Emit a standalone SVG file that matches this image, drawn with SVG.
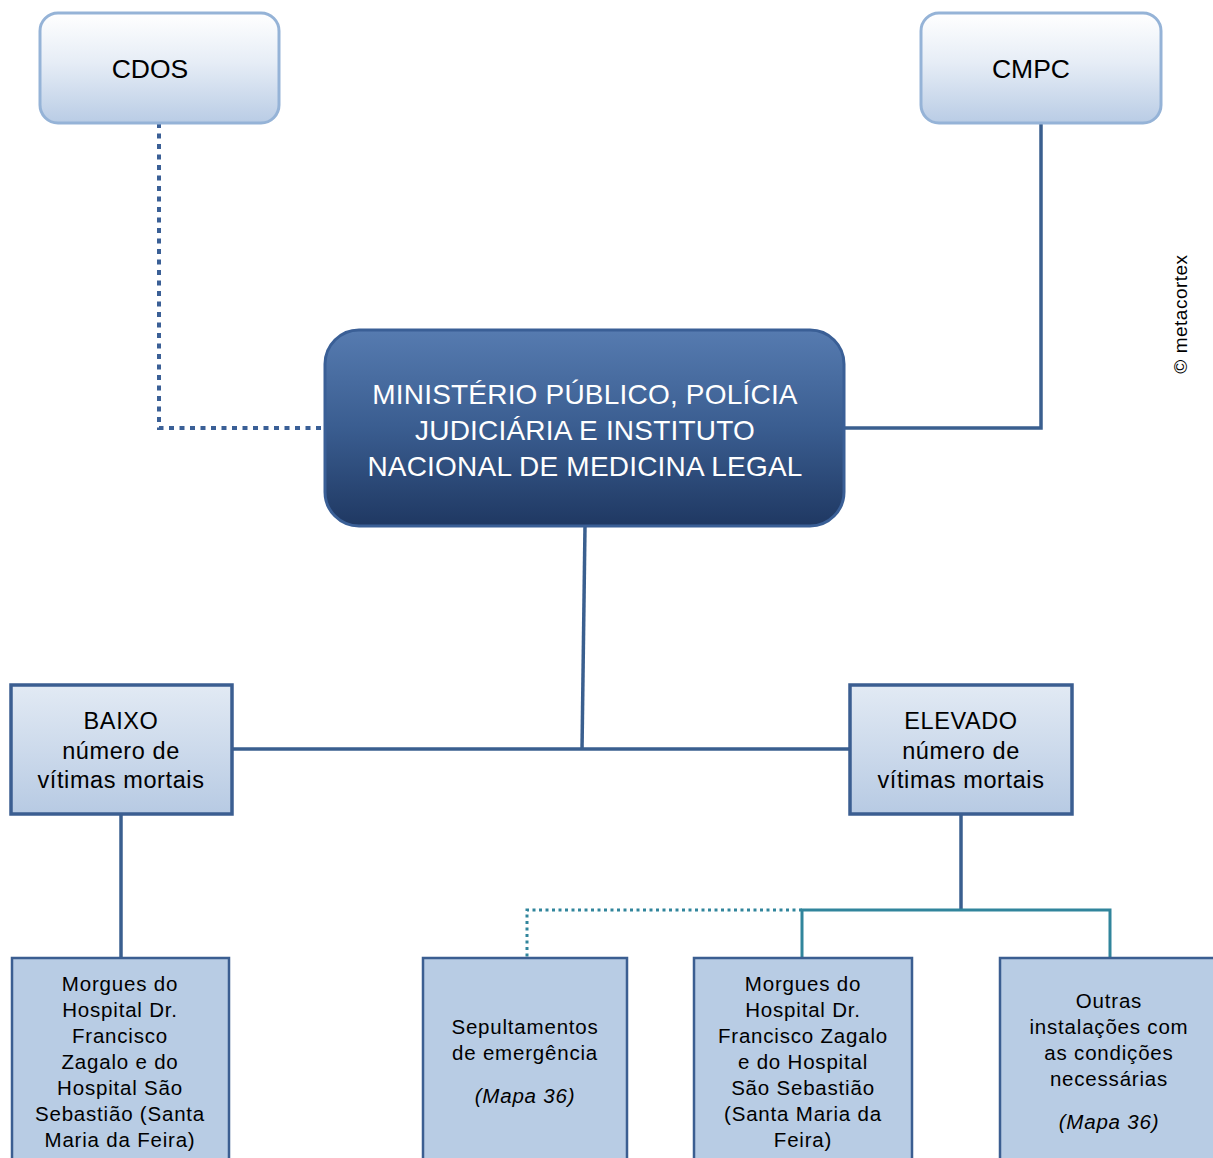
<svg xmlns="http://www.w3.org/2000/svg" width="1213" height="1158" viewBox="0 0 1213 1158">
<defs>
<linearGradient id="gTop" x1="0" y1="0" x2="0" y2="1">
<stop offset="0" stop-color="#ffffff"/>
<stop offset="0.45" stop-color="#e6edf6"/>
<stop offset="1" stop-color="#b9cce5"/>
</linearGradient>
<linearGradient id="gMain" x1="0" y1="0" x2="0" y2="1">
<stop offset="0" stop-color="#567bb0"/>
<stop offset="0.5" stop-color="#3a5d90"/>
<stop offset="1" stop-color="#1f3862"/>
</linearGradient>
<linearGradient id="gMid" x1="0" y1="0" x2="0" y2="1">
<stop offset="0" stop-color="#e2eaf4"/>
<stop offset="1" stop-color="#b7cae3"/>
</linearGradient>
<style>
.top{fill:url(#gTop);stroke:#95b3d7;stroke-width:3}
.main{fill:url(#gMain);stroke:#3a5f96;stroke-width:3}
.mid{fill:url(#gMid);stroke:#3b5e91;stroke-width:3.5}
.bot{fill:#b8cce4;stroke:#3b5e91;stroke-width:2.5}
.ln{fill:none;stroke:#3a5f8f;stroke-width:3.5}
.dot{fill:none;stroke:#3a5f96;stroke-width:4;stroke-dasharray:5 5.5}
.teal{fill:none;stroke:#31859c;stroke-width:3}
.tdot{fill:none;stroke:#31859c;stroke-width:3;stroke-dasharray:3 3.5}
text{font-family:"Liberation Sans",Arial,sans-serif;text-anchor:middle;fill:#000}
.t24{font-size:26.5px}
.tm{font-size:28px;fill:#fff;letter-spacing:0.2px}
.t22{font-size:23.5px;letter-spacing:0.6px}
.t20{font-size:20.5px;letter-spacing:0.8px}
.it{font-style:italic}
</style>
</defs>
<g id="connectors">
<path class="dot" d="M159,123 V428 H322"/>
<path class="ln" d="M1041,123 V428 H844"/>
<path class="ln" d="M585,526 L582,750"/>
<path class="ln" d="M232,749 H850"/>
<path class="ln" d="M121,814 V958"/>
<path class="ln" d="M961,814 V910"/>
<path class="teal" d="M802,958 V910 H1110 V958"/>
<path class="tdot" d="M802,910 H527 V958"/>
</g>
<g id="cdos">
<rect class="top" x="40" y="13" width="239" height="110" rx="18"/>
<text class="t24" x="150" y="78">CDOS</text>
</g>
<g id="cmpc">
<rect class="top" x="921" y="13" width="240" height="110" rx="18"/>
<text class="t24" x="1031" y="78">CMPC</text>
</g>
<g id="main">
<rect class="main" x="325" y="330" width="519" height="196" rx="34"/>
<text class="tm" x="585" y="404">MINISTÉRIO PÚBLICO, POLÍCIA</text>
<text class="tm" x="585" y="440">JUDICIÁRIA E INSTITUTO</text>
<text class="tm" x="585" y="476">NACIONAL DE MEDICINA LEGAL</text>
</g>
<g id="baixo">
<rect class="mid" x="11" y="685" width="221" height="129"/>
<text class="t22" x="121" y="729">BAIXO</text>
<text class="t22" x="121" y="759">número de</text>
<text class="t22" x="121" y="788">vítimas mortais</text>
</g>
<g id="elevado">
<rect class="mid" x="850" y="685" width="222" height="129"/>
<text class="t22" x="961" y="729">ELEVADO</text>
<text class="t22" x="961" y="759">número de</text>
<text class="t22" x="961" y="788">vítimas mortais</text>
</g>
<g id="morgues1">
<rect class="bot" x="12" y="958" width="217" height="210"/>
<text class="t20" x="120" y="991">Morgues do</text>
<text class="t20" x="120" y="1017">Hospital Dr.</text>
<text class="t20" x="120" y="1043">Francisco</text>
<text class="t20" x="120" y="1069">Zagalo e do</text>
<text class="t20" x="120" y="1095">Hospital São</text>
<text class="t20" x="120" y="1121">Sebastião (Santa</text>
<text class="t20" x="120" y="1147">Maria da Feira)</text>
</g>
<g id="sepult">
<rect class="bot" x="423" y="958" width="204" height="210"/>
<text class="t20" x="525" y="1034">Sepultamentos</text>
<text class="t20" x="525" y="1060">de emergência</text>
<text class="t20 it" x="525" y="1103">(Mapa 36)</text>
</g>
<g id="morgues2">
<rect class="bot" x="694" y="958" width="218" height="210"/>
<text class="t20" x="803" y="991">Morgues do</text>
<text class="t20" x="803" y="1017">Hospital Dr.</text>
<text class="t20" x="803" y="1043">Francisco Zagalo</text>
<text class="t20" x="803" y="1069">e do Hospital</text>
<text class="t20" x="803" y="1095">São Sebastião</text>
<text class="t20" x="803" y="1121">(Santa Maria da</text>
<text class="t20" x="803" y="1147">Feira)</text>
</g>
<g id="outras">
<rect class="bot" x="1000" y="958" width="220" height="210"/>
<text class="t20" x="1109" y="1008">Outras</text>
<text class="t20" x="1109" y="1034">instalações com</text>
<text class="t20" x="1109" y="1060">as condições</text>
<text class="t20" x="1109" y="1086">necessárias</text>
<text class="t20 it" x="1109" y="1129">(Mapa 36)</text>
</g>
<text x="1187" y="314" font-size="19" letter-spacing="0.5" transform="rotate(-90 1187 314)">© metacortex</text>
</svg>
